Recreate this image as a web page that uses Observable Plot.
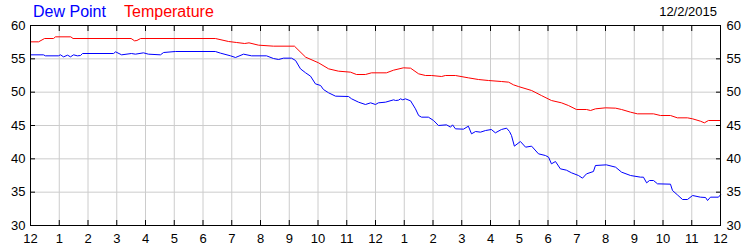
<!DOCTYPE html>
<html><head><meta charset="utf-8">
<script src="https://cdn.jsdelivr.net/npm/d3@7"></script>
<script src="https://cdn.jsdelivr.net/npm/@observablehq/plot@0.6"></script>
<style>
body{margin:0;background:#fff;}
#wrap{position:relative;width:750px;height:250px;font-family:"Liberation Sans",Arial,sans-serif;background:#fff;}
.t{position:absolute;white-space:nowrap;line-height:16px;}
</style></head><body>
<div id="wrap">
<div id="chart"></div>
<div class="t" style="left:33px;top:4px;font-size:16px;color:#0000ff">Dew Point</div>
<div class="t" style="left:124px;top:4px;font-size:16px;color:#ff0000">Temperature</div>
<div class="t" style="right:33px;top:4px;font-size:13px;color:#000">12/2/2015</div>
</div>
<script>
// hours since midnight (0..24) and values in °F
const tempHours = [0,0.28,0.49,0.80,0.87,1.40,1.48,3.50,3.62,3.70,3.83,6.43,6.89,7.17,7.45,7.60,7.93,8.45,9.18,9.57,10.02,10.37,10.71,11.13,11.34,11.65,11.86,12.38,12.63,12.97,13.22,13.50,13.74,13.95,14.30,14.43,14.78,15.23,15.58,15.93,16.38,16.63,16.80,16.97,17.43,17.77,18.12,18.47,18.71,18.99,19.34,19.48,19.65,20.0,20.35,20.56,20.87,21.11,21.67,21.91,22.26,22.50,22.85,23.03,23.30,23.44,23.58,24];
const tempValues = [57.55,57.55,58.05,58.05,58.3,58.3,58.05,58.05,57.7,57.75,58.05,58.05,57.6,57.45,57.3,57.4,57.05,56.9,56.9,55.25,54.4,53.5,53.15,53.0,52.65,52.65,52.9,52.9,53.3,53.65,53.6,52.75,52.5,52.5,52.35,52.5,52.5,52.15,51.9,51.75,51.6,51.5,51.1,50.85,50.25,49.5,48.75,48.4,48.0,47.4,47.4,47.25,47.5,47.65,47.6,47.4,47.0,46.75,46.75,46.5,46.5,46.15,46.15,46.0,45.65,45.4,45.75,45.75];

const dewHours = [0,0.45,0.52,0.97,1.04,1.15,1.29,1.39,1.50,1.63,1.74,1.81,2.89,2.96,3.17,3.51,3.65,3.93,4.10,4.52,4.63,5.04,6.43,6.61,6.96,7.13,7.41,7.69,8.21,8.45,8.63,8.80,9.08,9.22,9.39,9.57,9.74,9.91,10.09,10.19,10.37,10.61,11.06,11.17,11.41,11.65,11.83,12.0,12.10,12.35,12.63,12.70,12.80,12.87,12.95,13.04,13.22,13.39,13.50,13.60,13.84,14.02,14.19,14.47,14.61,14.68,14.78,15.06,15.23,15.34,15.48,15.65,15.83,16.03,16.17,16.38,16.56,16.66,16.73,16.83,17.04,17.22,17.43,17.67,17.91,18.02,18.12,18.26,18.43,18.64,18.82,19.06,19.20,19.34,19.58,19.65,20.03,20.35,20.56,20.87,21.22,21.32,21.43,21.53,21.67,21.81,22.26,22.33,22.50,22.68,22.85,23.03,23.30,23.48,23.55,23.65,23.93,24.0];
const dewValues = [55.6,55.6,55.45,55.45,55.6,55.3,55.55,55.3,55.6,55.45,55.5,55.8,55.8,56.05,55.6,55.8,55.7,55.9,55.7,55.6,55.95,56.1,56.1,55.85,55.45,55.2,55.7,55.45,55.45,55.05,54.9,55.1,55.1,54.75,53.5,52.9,52.4,51.25,51.0,50.4,49.9,49.4,49.35,49.0,48.5,48.15,48.4,48.15,48.4,48.5,48.85,48.75,48.8,49.0,48.85,49.0,48.7,47.5,46.5,46.25,46.25,45.75,45.0,45.1,44.75,45.1,44.5,44.45,44.9,43.75,44.1,44.0,44.25,44.4,43.9,44.4,44.6,44.1,43.5,41.9,42.6,41.75,41.9,40.75,40.5,40.25,39.25,39.6,38.5,38.3,37.9,37.5,37.1,37.75,38.1,39.0,39.1,38.75,38.0,37.5,37.25,37.25,36.4,36.75,36.75,36.25,36.2,35.25,34.6,33.9,33.9,34.5,34.25,34.2,33.75,34.25,34.25,34.6];

const hourTicks = d3.range(0, 25);
const hourLabels = ["12","1","2","3","4","5","6","7","8","9","10","11","12","1","2","3","4","5","6","7","8","9","10","11","12"];
const tempTicks = [30,35,40,45,50,55,60];

const grid = "#cccccc";
const fmtHour = (d) => hourLabels[d];

const chart = Plot.plot({
  width: 750,
  height: 250,
  marginLeft: 30,
  marginRight: 30,
  marginTop: 25,
  marginBottom: 25,
  style: {fontFamily: '"Liberation Sans", Arial, sans-serif', fontSize: "13px", color: "#000", background: "transparent"},
  x: {domain: [0, 24]},
  y: {domain: [30, 60]},
  marks: [
    Plot.gridX(hourTicks, {stroke: grid, strokeOpacity: 1}),
    Plot.gridY(tempTicks, {stroke: grid, strokeOpacity: 1}),
    Plot.line(dewValues, {x: dewHours, y: dewValues, stroke: "#0000ff", strokeWidth: 1}),
    Plot.line(tempValues, {x: tempHours, y: tempValues, stroke: "#ff0000", strokeWidth: 1}),
    Plot.frame({stroke: "#000"}),
    // inward ticks
    Plot.axisX({anchor: "bottom", ticks: hourTicks, tickSize: 5, insetBottom: 5, tickFormat: () => "", label: null}),
    Plot.axisX({anchor: "top", ticks: hourTicks, tickSize: 5, insetTop: 5, tickFormat: () => "", label: null}),
    Plot.axisY({anchor: "left", ticks: tempTicks, tickSize: 5, insetLeft: 5, tickFormat: () => "", label: null}),
    Plot.axisY({anchor: "right", ticks: tempTicks, tickSize: 5, insetRight: 5, tickFormat: () => "", label: null}),
    // labels
    Plot.axisX({anchor: "bottom", ticks: hourTicks, tickSize: 0, tickPadding: 8, tickFormat: fmtHour, label: null}),
    Plot.axisY({anchor: "left", ticks: tempTicks, tickSize: 0, tickPadding: 5, label: null}),
    Plot.axisY({anchor: "right", ticks: tempTicks, tickSize: 0, tickPadding: 6, label: null})
  ]
});
document.getElementById("chart").appendChild(chart);
</script>
</body></html>
